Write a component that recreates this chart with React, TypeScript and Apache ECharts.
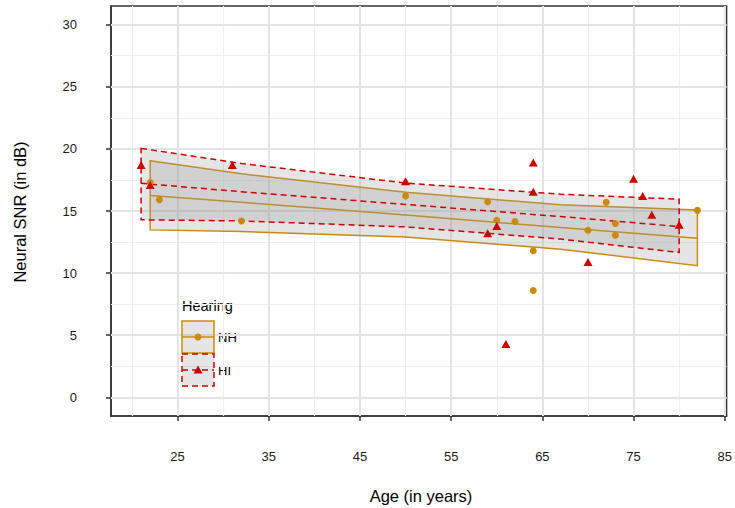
import React, { useEffect, useRef } from "react";
import * as echarts from "echarts";

// ---- Data ----
const nhAge = [22, 23, 32, 50, 59, 60, 62, 64, 64, 70, 72, 73, 73, 82];
const nhSnr = [17.3, 15.9, 14.2, 16.2, 15.75, 14.25, 14.15, 11.8, 8.6, 13.45, 15.7, 14.0, 13.05, 15.05];

const hiAge = [21, 22, 31, 50, 64, 64, 75, 76, 77, 80, 59, 60, 70, 61];
const hiSnr = [18.7, 17.1, 18.7, 17.4, 18.9, 16.55, 17.6, 16.2, 14.7, 13.9, 13.2, 13.8, 10.9, 4.3];

// regression fit + confidence band
const nhBandAge = [22, 32, 50, 67, 82];
const nhBandUp = [19.05, 18.0, 16.5, 15.5, 15.09];
const nhBandFit = [16.24, 15.7, 14.68, 13.67, 12.8];
const nhBandLo = [13.48, 13.35, 12.9, 11.93, 10.6];

const hiBandAge = [21, 32, 50, 67, 80];
const hiBandUp = [20.04, 18.82, 17.25, 16.35, 15.95];
const hiBandFit = [17.23, 16.55, 15.53, 14.55, 13.75];
const hiBandLo = [14.29, 14.2, 13.72, 12.74, 11.66];

const xTicks = [25, 35, 45, 55, 65, 75, 85];
const xMinor = [20, 30, 40, 50, 60, 70, 80];
const yTicks = [0, 5, 10, 15, 20, 25, 30];
const yMinor = [2.5, 7.5, 12.5, 17.5, 22.5, 27.5];

const X_MIN = 17.7;
const X_MAX = 85.2;
const Y_MIN = -1.5;
const Y_MAX = 31.5;

const NH_COLOR = "#CA8A0E";
const HI_COLOR = "#CC0000";
const BAND_FILL = "rgba(153,153,153,0.25)";
const FONT = "'Liberation Sans', Arial, sans-serif";
const DASH = [6, 4];
const MAJOR_GRID = "#E4E4E4";
const MINOR_GRID = "#EEEEEE";

function bandRenderer(
  ages: number[],
  up: number[],
  fit: number[],
  lo: number[],
  color: string,
  dash: number[] | null
) {
  return (params: any, api: any) => {
    const upPts = ages.map((a, i) => api.coord([a, up[i]]));
    const loPts = ages.map((a, i) => api.coord([a, lo[i]])).reverse();
    const fitPts = ages.map((a, i) => api.coord([a, fit[i]]));
    return {
      type: "group",
      children: [
        {
          type: "polygon",
          shape: { points: [...upPts, ...loPts] },
          style: {
            fill: BAND_FILL,
            stroke: color,
            lineWidth: 1.5,
            lineDash: dash || undefined,
          },
        },
        {
          type: "polyline",
          shape: { points: fitPts },
          style: {
            fill: null,
            stroke: color,
            lineWidth: 1.5,
            lineDash: dash || undefined,
          },
        },
      ],
    };
  };
}

const gridMark = (axis: "xAxis" | "yAxis", v: number, major: boolean) => ({
  [axis]: v,
  lineStyle: {
    color: major ? MAJOR_GRID : MINOR_GRID,
    width: major ? 2 : 1.2,
    type: "solid",
  },
});

export default function App() {
  const ref = useRef<HTMLDivElement>(null);

  useEffect(() => {
    if (!ref.current) return;
    const chart = echarts.init(ref.current, null, { renderer: "svg" });

    const axisCommon = {
      axisLine: { show: true, onZero: false, lineStyle: { color: "#333333", width: 1.5 } },
      splitLine: { show: false },
    };

    const option: any = {
      animation: false,
      backgroundColor: "#ffffff",
      textStyle: { fontFamily: FONT },
      grid: {
        left: 111,
        right: 4,
        top: 6,
        bottom: 92,
        show: true,
        borderColor: "#333333",
        borderWidth: 1.5,
        backgroundColor: "transparent",
      },
      xAxis: {
        type: "value",
        min: X_MIN,
        max: X_MAX,
        ...axisCommon,
        axisTick: {
          show: true,
          customValues: xTicks,
          length: 5,
          lineStyle: { color: "#333333", width: 1.5 },
        },
        axisLabel: {
          customValues: xTicks,
          margin: 34,
          fontSize: 13,
          color: "#1a1a1a",
          fontFamily: FONT,
        },
      },
      yAxis: {
        type: "value",
        min: Y_MIN,
        max: Y_MAX,
        ...axisCommon,
        axisTick: {
          show: true,
          customValues: yTicks,
          length: 5,
          lineStyle: { color: "#333333", width: 1.5 },
        },
        axisLabel: {
          customValues: yTicks,
          margin: 34,
          fontSize: 13,
          color: "#1a1a1a",
          fontFamily: FONT,
        },
      },
      series: [
        {
          type: "scatter",
          name: "gridlines",
          silent: true,
          z: 1,
          symbolSize: 0,
          itemStyle: { opacity: 0 },
          data: [[50, 15]],
          markLine: {
            silent: true,
            z: 1,
            symbol: ["none", "none"],
            label: { show: false },
            animation: false,
            data: [
              ...xMinor.map((v) => gridMark("xAxis", v, false)),
              ...yMinor.map((v) => gridMark("yAxis", v, false)),
              ...xTicks.map((v) => gridMark("xAxis", v, true)),
              ...yTicks.map((v) => gridMark("yAxis", v, true)),
            ],
          },
        },
        {
          type: "custom",
          name: "NH band",
          silent: true,
          z: 2,
          data: [[nhBandAge[0], nhBandFit[0]]],
          renderItem: bandRenderer(nhBandAge, nhBandUp, nhBandFit, nhBandLo, NH_COLOR, null),
        },
        {
          type: "custom",
          name: "HI band",
          silent: true,
          z: 3,
          data: [[hiBandAge[0], hiBandFit[0]]],
          renderItem: bandRenderer(hiBandAge, hiBandUp, hiBandFit, hiBandLo, HI_COLOR, DASH),
        },
        {
          type: "scatter",
          name: "NH",
          z: 4,
          symbol: "circle",
          symbolSize: 7,
          itemStyle: { color: NH_COLOR, opacity: 1 },
          data: nhAge.map((a, i) => [a, nhSnr[i]]),
        },
        {
          type: "scatter",
          name: "HI",
          z: 5,
          symbol: "triangle",
          symbolSize: [9, 8],
          itemStyle: { color: HI_COLOR, opacity: 1 },
          data: hiAge.map((a, i) => [a, hiSnr[i]]),
        },
      ],
      graphic: [
        {
          type: "text",
          x: 421,
          y: 496,
          style: {
            text: "Age (in years)",
            align: "center",
            verticalAlign: "middle",
            fontSize: 16.5,
            fontFamily: FONT,
            fill: "#000000",
          },
        },
        {
          type: "text",
          x: 20,
          y: 212,
          rotation: Math.PI / 2,
          style: {
            text: "Neural SNR (in dB)",
            align: "center",
            verticalAlign: "middle",
            fontSize: 16.5,
            fontFamily: FONT,
            fill: "#000000",
          },
        },
        {
          type: "text",
          x: 182,
          y: 306,
          style: {
            text: "Hearing",
            align: "left",
            verticalAlign: "middle",
            fontSize: 14.5,
            fontFamily: FONT,
            fill: "#000000",
          },
        },
        {
          type: "rect",
          z: 10,
          shape: { x: 182, y: 321, width: 32, height: 32 },
          style: { fill: BAND_FILL, stroke: NH_COLOR, lineWidth: 1.5 },
        },
        {
          type: "line",
          z: 11,
          shape: { x1: 182, y1: 337, x2: 214, y2: 337 },
          style: { stroke: NH_COLOR, lineWidth: 1.5 },
        },
        {
          type: "circle",
          z: 12,
          shape: { cx: 198, cy: 337, r: 3.5 },
          style: { fill: NH_COLOR },
        },
        {
          type: "text",
          x: 218,
          y: 337,
          style: {
            text: "NH",
            align: "left",
            verticalAlign: "middle",
            fontSize: 13,
            fontFamily: FONT,
            fill: "#000000",
          },
        },
        {
          type: "rect",
          z: 10,
          shape: { x: 182, y: 354, width: 32, height: 32 },
          style: { fill: BAND_FILL, stroke: HI_COLOR, lineWidth: 1.5, lineDash: DASH },
        },
        {
          type: "line",
          z: 11,
          shape: { x1: 182, y1: 370, x2: 214, y2: 370 },
          style: { stroke: HI_COLOR, lineWidth: 1.5, lineDash: DASH },
        },
        {
          type: "polygon",
          z: 12,
          shape: { points: [[198, 365.5], [202.5, 373.5], [193.5, 373.5]] },
          style: { fill: HI_COLOR },
        },
        {
          type: "text",
          x: 218,
          y: 370,
          style: {
            text: "HI",
            align: "left",
            verticalAlign: "middle",
            fontSize: 13,
            fontFamily: FONT,
            fill: "#000000",
          },
        },
      ],
    };

    chart.setOption(option);
    return () => chart.dispose();
  }, []);

  return (
    <div
      ref={ref}
      style={{ position: "fixed", left: 0, top: 0, width: 735, height: 508 }}
    />
  );
}
